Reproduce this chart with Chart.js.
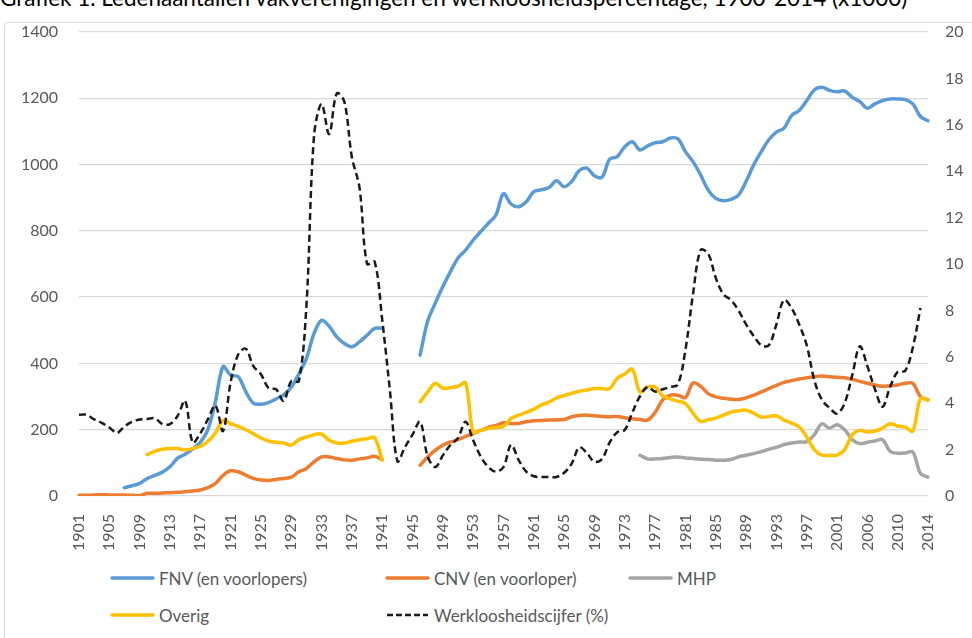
<!DOCTYPE html>
<html>
<head>
<meta charset="utf-8">
<script src="https://cdn.jsdelivr.net/npm/chart.js@4.4.1/dist/chart.umd.min.js"></script>
<style>
  body { margin: 0; width: 972px; height: 638px; overflow: hidden; background: #fff; position: relative; font-family: Lato, "Open Sans", sans-serif; }
  #titel { position: absolute; left: 0; top: -14px; font-size: 22.5px; line-height: 24px; color: #000; white-space: nowrap; }
  #kader { position: absolute; left: 4px; top: 22px; width: 1000px; height: 700px; border: 1px solid #d9d9d9; border-radius: 4px; }
  #wrap { position: absolute; left: 0; top: 0; width: 972px; height: 553px; }
  .leg { position: absolute; height: 24px; display: flex; align-items: center; font-size: 17px; color: #595959; white-space: nowrap; }
  .leg svg { margin-right: 4px; }
</style>
</head>
<body>
<div id="titel">Grafiek 1. Ledenaantallen vakverenigingen en werkloosheidspercentage, 1900-2014 (x1000)</div>
<div id="kader"></div>
<div id="wrap"><canvas id="chartLeden"></canvas></div>
<div id="legenda"></div>
<script>
// jaren (2005 ontbreekt in de reeks)
const jaren = [
  1901,1902,1903,1904,1905,1906,1907,1908,1909,1910,
  1911,1912,1913,1914,1915,1916,1917,1918,1919,1920,
  1921,1922,1923,1924,1925,1926,1927,1928,1929,1930,
  1931,1932,1933,1934,1935,1936,1937,1938,1939,1940,
  1941,1942,1943,1944,1945,1946,1947,1948,1949,1950,
  1951,1952,1953,1954,1955,1956,1957,1958,1959,1960,
  1961,1962,1963,1964,1965,1966,1967,1968,1969,1970,
  1971,1972,1973,1974,1975,1976,1977,1978,1979,1980,
  1981,1982,1983,1984,1985,1986,1987,1988,1989,1990,
  1991,1992,1993,1994,1995,1996,1997,1998,1999,2000,
  2001,2002,2003,2004,2006,2007,2008,2009,2010,2011,
  2012,2013,2014
];

// ledentallen x1000
const fnv = [
  null,null,null,null,null,null,25,31,38,53,
  62,72,88,114,126,142,162,200,285,390,
  365,360,315,280,277,282,293,305,328,368,
  415,490,530,512,480,460,450,465,485,506,
  506,null,null,null,null,425,528,582,632,677,
  718,742,772,798,823,848,912,881,873,888,
  918,924,931,951,933,949,982,989,966,962,
  1016,1024,1054,1069,1044,1056,1066,1069,1080,1078,
  1039,1009,969,923,898,891,895,908,949,999,
  1039,1075,1098,1110,1148,1163,1193,1225,1233,1224,
  1220,1222,1203,1190,1170,1183,1193,1198,1198,1196,
  1183,1145,1132
];
const cnv = [
  2,2,3,4,3,3,3,2,1,8,
  8,9,10,11,13,15,18,25,38,62,
  76,73,63,53,48,47,50,53,57,73,
  83,103,118,118,113,109,108,112,115,120,
  110,null,null,null,null,93,118,138,153,163,
  170,180,188,198,207,213,221,219,219,224,
  227,228,229,230,231,239,243,244,242,240,
  239,240,236,233,231,229,252,290,304,304,
  297,341,331,309,299,295,292,291,296,304,
  314,324,334,343,348,353,357,360,362,360,
  358,357,352,346,340,335,331,333,335,340,
  340,300,290
];
const mhp = [
  null,null,null,null,null,null,null,null,null,null,
  null,null,null,null,null,null,null,null,null,null,
  null,null,null,null,null,null,null,null,null,null,
  null,null,null,null,null,null,null,null,null,null,
  null,null,null,null,null,null,null,null,null,null,
  null,null,null,null,null,null,null,null,null,null,
  null,null,null,null,null,null,null,null,null,null,
  null,null,null,null,123,112,112,113,116,118,
  115,113,111,110,108,108,110,118,123,128,
  134,141,147,155,160,163,164,185,218,205,
  215,200,170,158,162,166,170,135,129,130,
  133,68,57
];
const overig = [
  null,null,null,null,null,null,null,null,null,125,
  135,141,143,143,139,143,150,165,190,228,
  218,210,200,188,175,166,162,160,153,170,
  178,185,187,168,160,160,165,170,173,176,
  108,null,null,null,null,284,314,340,325,327,
  331,341,193,198,204,207,210,234,244,252,
  262,275,283,296,303,310,316,320,324,324,
  324,355,368,383,314,329,329,302,293,286,
  279,250,225,230,235,244,253,257,259,250,
  238,240,242,229,220,208,178,140,123,123,
  123,140,185,198,193,196,205,218,211,208,
  196,294,289
];
// werkloosheid in %
const werkloosheid = [
  3.5,3.5,3.3,3.15,2.95,2.72,3.0,3.2,3.3,3.32,
  3.35,3.1,3.1,3.45,4.1,2.3,2.7,3.3,3.9,2.8,
  4.9,6.1,6.35,5.6,5.25,4.65,4.6,4.1,4.95,4.95,
  8.2,15.5,16.9,15.6,17.35,17.0,14.6,13.3,10.0,10.1,
  7.6,4.6,1.5,2.1,2.65,3.2,1.7,1.25,1.75,2.2,
  2.5,3.2,2.4,1.7,1.25,1.05,1.25,2.2,1.55,1.05,
  0.85,0.82,0.82,0.82,1.0,1.4,2.1,1.85,1.47,1.6,
  2.3,2.75,2.85,3.6,4.3,4.7,4.5,4.6,4.7,4.8,
  6.3,8.7,10.6,10.45,9.4,8.7,8.45,8.0,7.4,6.9,
  6.5,6.5,7.4,8.45,8.1,7.4,6.5,5.0,4.15,3.8,
  3.55,4.0,5.2,6.45,5.6,4.6,3.85,4.7,5.35,5.4,
  6.4,8.1,null
];

const reeksen = [
  { label: 'FNV (en voorlopers)', data: fnv, kleur: '#5b9bd5', dash: [], as: 'y', order: 5 },
  { label: 'CNV (en voorloper)', data: cnv, kleur: '#ed7d31', dash: [], as: 'y', order: 4 },
  { label: 'MHP', data: mhp, kleur: '#a5a5a5', dash: [], as: 'y', order: 3 },
  { label: 'Overig', data: overig, kleur: '#ffc000', dash: [], as: 'y', order: 2 },
  { label: 'Werkloosheidscijfer (%)', data: werkloosheid, kleur: '#1a1a1a', dash: [7, 4], as: 'y2', order: 1 }
];

const tickFont = { family: 'Lato', size: 16 };

new Chart(document.getElementById('chartLeden'), {
  type: 'line',
  data: {
    labels: jaren,
    datasets: reeksen.map(r => ({
      label: r.label,
      data: r.data,
      yAxisID: r.as,
      order: r.order,
      borderColor: r.kleur,
      backgroundColor: r.kleur,
      borderWidth: r.dash.length ? 2.5 : 3.5,
      borderDash: r.dash,
      borderCapStyle: r.dash.length ? 'butt' : 'round',
      borderJoinStyle: 'round',
      pointRadius: 0,
      tension: 0.35,
      spanGaps: false
    }))
  },
  options: {
    responsive: true,
    maintainAspectRatio: false,
    animation: false,
    layout: { padding: { top: 32, left: 0, right: 0, bottom: 0 } },
    plugins: {
      legend: { display: false },
      tooltip: { enabled: false }
    },
    scales: {
      x: {
        offset: false,
        grid: { display: false },
        border: { display: false },
        ticks: {
          autoSkip: false,
          minRotation: 90,
          maxRotation: 90,
          padding: 10,
          color: '#595959',
          font: tickFont,
          callback: function (val, i) { return i % 4 === 0 ? this.getLabelForValue(val) : ''; }
        },
        afterFit: s => { s.height = 57; }
      },
      y: {
        position: 'left',
        min: 0,
        max: 1400,
        ticks: { stepSize: 200, padding: 21, color: '#595959', font: tickFont, callback: v => String(v) },
        grid: { color: '#d9d9d9', lineWidth: 1.3, drawTicks: false },
        border: { display: false },
        afterFit: s => { s.width = 79; }
      },
      y2: {
        position: 'right',
        min: 0,
        max: 20,
        ticks: { stepSize: 2, padding: 17, color: '#595959', font: tickFont, callback: v => String(v) },
        grid: { display: false, drawTicks: false },
        border: { display: false },
        afterFit: s => { s.width = 44; }
      }
    }
  }
});

// legenda in twee rijen, zoals in Excel
const legPos = [[110, 578], [385, 578], [628, 578], [110, 615], [385, 615]];
const legenda = document.getElementById('legenda');
reeksen.forEach((r, i) => {
  const d = document.createElement('div');
  d.className = 'leg';
  d.style.left = legPos[i][0] + 'px';
  d.style.top = (legPos[i][1] - 12) + 'px';
  const dash = r.dash.length ? 'stroke-dasharray="6 3"' : '';
  const cap = r.dash.length ? 'butt' : 'round';
  const w = r.dash.length ? 2.5 : 3.5;
  d.innerHTML = '<svg width="45" height="10"><line x1="2" y1="5" x2="43" y2="5" stroke="' + r.kleur +
    '" stroke-width="' + w + '" stroke-linecap="' + cap + '" ' + dash + '/></svg><span>' + r.label + '</span>';
  legenda.appendChild(d);
});
</script>
</body>
</html>
